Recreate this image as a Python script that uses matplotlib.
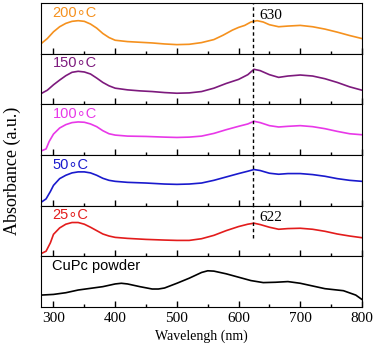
import numpy as np
import matplotlib
matplotlib.use("Agg")
import matplotlib.pyplot as plt
from matplotlib.ticker import MultipleLocator

# absorbance spectra (arbitrary units)
wl_200 = [280, 290, 300, 310, 320, 330, 340, 350, 360, 370, 380, 390, 400, 420, 440, 460, 480, 500,
          520, 540, 560, 575, 590, 600, 610, 620, 630, 640, 650, 665, 680, 700, 720, 740, 760, 780, 800]
ab_200 = [30, 45, 65, 80, 90, 96, 98, 96, 88, 76, 60, 48, 40, 36, 34, 32, 29, 27,
          28, 33, 42, 55, 70, 78, 84, 94, 98, 94, 86, 80, 82, 84, 80, 73, 64, 54, 45]

wl_150 = [280, 290, 300, 310, 320, 330, 340, 350, 360, 370, 380, 390, 400, 420, 440, 460, 480, 500,
          520, 540, 560, 580, 600, 615, 625, 635, 650, 665, 680, 700, 720, 740, 760, 780, 800]
ab_150 = [32, 42, 58, 72, 85, 95, 98, 96, 90, 78, 65, 55, 48, 43, 40, 38, 35, 33,
          34, 38, 48, 62, 74, 88, 104, 100, 88, 80, 84, 87, 84, 76, 65, 52, 42]

wl_100 = [280, 288, 293, 300, 310, 320, 330, 340, 350, 360, 370, 380, 390, 400, 420, 450, 480, 500,
          520, 540, 560, 580, 600, 615, 625, 635, 650, 665, 680, 700, 720, 740, 760, 780, 800]
ab_100 = [12, 18, 40, 62, 80, 90, 96, 98, 97, 92, 84, 72, 63, 59, 56, 55, 53, 52,
          53, 56, 64, 75, 85, 92, 100, 96, 87, 83, 85, 87, 84, 78, 70, 63, 60]

wl_50 = [280, 288, 295, 300, 310, 320, 330, 340, 350, 360, 370, 380, 390, 400, 420, 450, 480, 500,
         520, 540, 560, 580, 600, 615, 625, 635, 650, 665, 680, 700, 720, 740, 760, 780, 800]
ab_50 = [10, 20, 42, 60, 80, 90, 97, 100, 100, 97, 90, 81, 75, 72, 69, 67, 64, 63,
         64, 67, 75, 85, 95, 102, 107, 104, 96, 93, 95, 95, 92, 87, 80, 75, 72]

wl_25 = [280, 288, 295, 300, 310, 320, 330, 340, 350, 360, 370, 380, 390, 400, 420, 450, 480, 500,
         520, 540, 560, 580, 600, 615, 625, 635, 650, 665, 680, 700, 720, 740, 760, 780, 800]
ab_25 = [8, 15, 40, 65, 84, 95, 100, 100, 95, 86, 76, 66, 60, 56, 53, 50, 48, 47,
         47, 52, 62, 76, 88, 95, 98, 94, 86, 80, 82, 83, 80, 74, 66, 60, 55]

wl_cupc = [280, 300, 320, 340, 360, 380, 400, 410, 420, 440, 460, 470, 480, 500, 520, 540, 550, 560,
           580, 600, 620, 640, 660, 680, 700, 720, 740, 750, 770, 790, 800]
ab_cupc = [35, 37, 42, 50, 55, 60, 68, 70, 68, 60, 53, 53, 56, 70, 85, 102, 107, 106,
           98, 88, 78, 72, 73, 75, 70, 62, 54, 52, 48, 35, 22]

labels = ["200\u2218C", "150\u2218C", "100\u2218C", "50\u2218C", "25\u2218C", "CuPc powder"]
colors = ["#f5911e", "#7d1a7d", "#e838e8", "#1a1acd", "#e31c1c", "black"]
series = [(wl_200, ab_200), (wl_150, ab_150), (wl_100, ab_100),
          (wl_50, ab_50), (wl_25, ab_25), (wl_cupc, ab_cupc)]

peak_line = 623

fig, axes = plt.subplots(6, 1, sharex=True, figsize=(3.81, 3.46), dpi=100)
fig.subplots_adjust(left=0.108, right=0.950, bottom=0.113, top=0.991, hspace=0)

for i, (ax, (wl, ab), lab, col) in enumerate(zip(axes, series, labels, colors)):
    ax.plot(wl, ab, color=col, lw=1.2)
    ax.set_ylim(0, 150)
    ax.set_xlim(280, 800)
    ax.set_yticks([])
    ax.xaxis.set_major_locator(MultipleLocator(100))
    ax.xaxis.set_minor_locator(MultipleLocator(50))
    ax.tick_params(axis="x", which="major", direction="in", length=4, width=1)
    ax.tick_params(axis="x", which="minor", direction="in", length=2.5, width=1)
    ax.text(0.035, 0.95, lab, color=col, transform=ax.transAxes, va="top", ha="left",
            fontsize=10.5, family=["Liberation Sans", "DejaVu Sans"])
    if i < 4:
        ax.axvline(peak_line, color="black", ls=(0, (2.5, 2)), lw=1)
    elif i == 4:
        ax.axvline(peak_line, ymin=0.37, color="black", ls=(0, (2.5, 2)), lw=1)

axes[0].text(634, 114, "630", fontsize=11, family="Liberation Serif", va="center")
axes[4].text(634, 114, "622", fontsize=11, family="Liberation Serif", va="center")

axes[-1].set_xticks([300, 400, 500, 600, 700, 800])
for t in axes[-1].get_xticklabels():
    t.set_family("Liberation Serif")
    t.set_fontsize(11)
axes[-1].tick_params(axis="x", which="major", pad=4)
axes[-1].set_xlabel("Wavelengh (nm)", family="Liberation Serif", fontsize=10, labelpad=3)
fig.text(0.033, 0.506, "Absorbance (a.u.)", rotation=90, va="center", ha="center",
         family="Liberation Serif", fontsize=13)

fig.savefig("out.png", dpi=100)
